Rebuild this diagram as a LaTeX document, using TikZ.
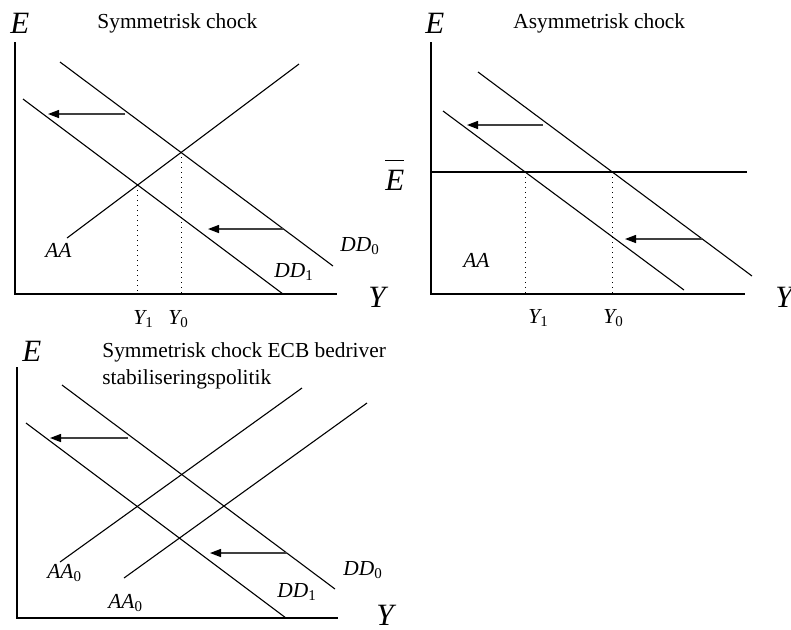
\documentclass[tikz,border=0pt]{standalone}
\usepackage{fontspec}
\setmainfont{Liberation Serif}
\usetikzlibrary{arrows.meta}

\newcommand{\lsub}[1]{\textsubscript{\upshape #1}}

\tikzset{
  curve/.style={line width=0.55pt},
  shiftarrow/.style={line width=0.7pt, draw=black!75, -{Triangle[length=5.5pt,width=4pt,color=black]}},
  guide/.style={dotted, line width=0.5pt},
  lbl/.style={inner sep=0pt, anchor=base west, font=\fontsize{10.7}{13}\selectfont\itshape},
  axlbl/.style={inner sep=0pt, anchor=base west, font=\fontsize{15.5}{18}\selectfont\itshape},
  ttl/.style={inner sep=0pt, anchor=base west, font=\fontsize{10.7}{13}\selectfont},
}

\begin{document}
\begin{tikzpicture}[x=0.5pt, y=-0.5pt]
    \useasboundingbox (0,0) rectangle (791,629);

    % Symmetrisk chock
    \coordinate (p1top) at (15,42);
    \coordinate (p1o) at (15,294);
    \coordinate (p1end) at (337,294);
    \draw[curve] (p1top) -- (p1o) -- (p1end);
    \coordinate (p1dd0s) at (60,62);  \coordinate (p1dd0e) at (333,266);
    \coordinate (p1dd1s) at (23,99);  \coordinate (p1dd1e) at (283,294);
    \coordinate (p1aas) at (67,238);  \coordinate (p1aae) at (299,64);
    \draw[curve] (p1dd0s) -- (p1dd0e);
    \draw[curve] (p1dd1s) -- (p1dd1e);
    \draw[curve] (p1aas) -- (p1aae);
    \coordinate (p1q0) at (intersection of p1dd0s--p1dd0e and p1aas--p1aae);
    \coordinate (p1q1) at (intersection of p1dd1s--p1dd1e and p1aas--p1aae);
    \draw[guide] (p1q1) -- (p1q1 |- p1o);
    \draw[guide] (p1q0) -- (p1q0 |- p1o);
    \coordinate (p1s1) at (125,114);  \coordinate (p1t1) at (48,114);
    \coordinate (p1s2) at (283,229);  \coordinate (p1t2) at (208,229);
    \draw[shiftarrow] (p1s1) -- (p1t1);
    \draw[shiftarrow] (p1s2) -- (p1t2);
    \node[axlbl] (p1E) at (10,33) {E};
    \node[ttl] (p1title) at (97,28) {Symmetrisk chock};
    \node[lbl] (p1AA) at (45,257) {AA};
    \node[lbl] (p1DD0) at (340,251) {DD\lsub{0}};
    \node[lbl] (p1DD1) at (274,277) {DD\lsub{1}};
    \node[axlbl] (p1Y) at (368,307) {Y};
    \node[lbl] (p1Y1) at (133,324) {Y\lsub{1}};
    \node[lbl] (p1Y0) at (168,324) {Y\lsub{0}};

    % Asymmetrisk chock
    \coordinate (p2top) at (431,42);
    \coordinate (p2o) at (431,294);
    \coordinate (p2end) at (745,294);
    \draw[curve] (p2top) -- (p2o) -- (p2end);
    \coordinate (p2fix) at (431,172);  \coordinate (p2fixe) at (747,172);
    \draw[curve] (p2fix) -- (p2fixe);
    \coordinate (p2dd0s) at (478,72);  \coordinate (p2dd0e) at (752,276);
    \coordinate (p2dd1s) at (443,111); \coordinate (p2dd1e) at (684,290);
    \draw[curve] (p2dd0s) -- (p2dd0e);
    \draw[curve] (p2dd1s) -- (p2dd1e);
    \coordinate (p2q0) at (intersection of p2dd0s--p2dd0e and p2fix--p2fixe);
    \coordinate (p2q1) at (intersection of p2dd1s--p2dd1e and p2fix--p2fixe);
    \draw[guide] (p2q1) -- (p2q1 |- p2o);
    \draw[guide] (p2q0) -- (p2q0 |- p2o);
    \coordinate (p2s1) at (543,125);  \coordinate (p2t1) at (467,125);
    \coordinate (p2s2) at (702,239);  \coordinate (p2t2) at (625,239);
    \draw[shiftarrow] (p2s1) -- (p2t1);
    \draw[shiftarrow] (p2s2) -- (p2t2);
    \node[axlbl] (p2E) at (425,33) {E};
    \node[ttl] (p2title) at (513,28) {Asymmetrisk chock};
    \node[axlbl] (p2Ebar) at (385,190) {$\overline{\mbox{\itshape E\rule{0pt}{13.5pt}}}$};
    \node[lbl] (p2AA) at (463,267) {AA};
    \node[axlbl] (p2Y) at (775,307) {Y};
    \node[lbl] (p2Y1) at (528,323) {Y\lsub{1}};
    \node[lbl] (p2Y0) at (603,323) {Y\lsub{0}};

    % Symmetrisk chock, ECB
    \coordinate (p3top) at (17,367);
    \coordinate (p3o) at (17,618);
    \coordinate (p3end) at (338,618);
    \draw[curve] (p3top) -- (p3o) -- (p3end);
    \coordinate (p3dd0s) at (62,385);  \coordinate (p3dd0e) at (335,589);
    \coordinate (p3dd1s) at (26,423);  \coordinate (p3dd1e) at (286,618);
    \coordinate (p3aas) at (60,562);   \coordinate (p3aae) at (302,388);
    \coordinate (p3ab) at (124,578);   \coordinate (p3abe) at (367,403);
    \draw[curve] (p3dd0s) -- (p3dd0e);
    \draw[curve] (p3dd1s) -- (p3dd1e);
    \draw[curve] (p3aas) -- (p3aae);
    \draw[curve] (p3ab) -- (p3abe);
    \coordinate (p3s1) at (128,438);  \coordinate (p3t1) at (50,438);
    \coordinate (p3s2) at (287,553);  \coordinate (p3t2) at (210,553);
    \draw[shiftarrow] (p3s1) -- (p3t1);
    \draw[shiftarrow] (p3s2) -- (p3t2);
    \node[axlbl] (p3E) at (22,361) {E};
    \node[ttl] (p3title) at (102,357) {Symmetrisk chock ECB bedriver};
    \node[ttl] (p3title2) at (102,384) {stabiliseringspolitik};
    \node[lbl] (p3AA0) at (47,578) {AA\lsub{0}};
    \node[lbl] (p3AA0b) at (108,608) {AA\lsub{0}};
    \node[lbl] (p3DD0) at (343,575) {DD\lsub{0}};
    \node[lbl] (p3DD1) at (277,597) {DD\lsub{1}};
    \node[axlbl] (p3Y) at (376,625) {Y};
\end{tikzpicture}
\end{document}
